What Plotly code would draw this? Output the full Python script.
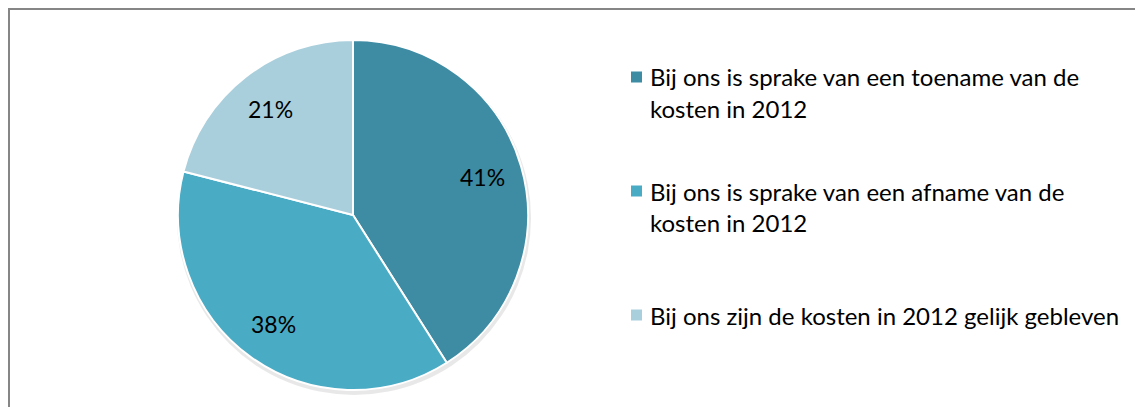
import math
import plotly.graph_objects as go

labels = [
    "Bij ons is sprake van een toename van de<br>kosten in 2012",
    "Bij ons is sprake van een afname van de<br>kosten in 2012",
    "Bij ons zijn de kosten in 2012 gelijk gebleven",
]
values = [41, 38, 21]
colors = ["#3d8ca4", "#4aabc5", "#a9cfdc"]

# The page body has an 8px margin; build the figure to fill the rest of the window.
OFF = 8
W, H = 1143 - OFF, 407 - OFF
FONT = "Lato"
FS = 24

fig = go.Figure()

cx, cy, r = 353, 215, 175  # page pixels


def px(x):
    return (x - OFF) / W


def py(y):
    return 1 - (y - OFF) / H


# subtle shadow under the pie
fig.add_trace(go.Pie(
    values=[1], marker=dict(colors=["rgba(0,0,0,0.09)"], line=dict(width=0)),
    domain=dict(x=[px(cx - r - 1), px(cx + r + 3)], y=[py(cy + r + 5), py(cy - r + 1)]),
    textinfo="none", hoverinfo="skip", showlegend=False, sort=False,
))

fig.add_trace(go.Pie(
    labels=labels, values=values, sort=False, direction="clockwise", rotation=0,
    marker=dict(colors=colors, line=dict(color="white", width=2)),
    domain=dict(x=[px(cx - r), px(cx + r)], y=[py(cy + r), py(cy - r)]),
    textinfo="none", showlegend=False, hoverinfo="label+percent",
))

annotations = []
shapes = []

# percentage labels placed along each slice's mid angle
total = sum(values)
cum = 0
for v in values:
    mid = (cum + v / 2) / total * 2 * math.pi
    cum += v
    d = 0.77 * r
    lx = cx + d * math.sin(mid)
    ly = cy - d * math.cos(mid)
    annotations.append(dict(
        x=px(lx), y=py(ly), xref="paper", yref="paper", showarrow=False,
        xanchor="center", yanchor="middle", text=f"{round(v / total * 100)}%",
        font=dict(family=FONT, size=FS - 1, color="black"),
    ))

# manual legend
first_line_y = [77, 191, 315]
line_h = 31
for lab, col, y0 in zip(labels, colors, first_line_y):
    for i, line in enumerate(lab.split("<br>")):
        annotations.append(dict(
            x=px(648), y=py(y0 + i * line_h), xref="paper", yref="paper",
            xanchor="left", yanchor="middle", text=line, showarrow=False,
            font=dict(family=FONT, size=FS, color="black"),
        ))
    shapes.append(dict(
        type="rect", xref="paper", yref="paper",
        x0=px(631), x1=px(642), y0=py(y0 + 5.5), y1=py(y0 - 5.5),
        fillcolor=col, line=dict(width=0),
    ))

# chart border
shapes.append(dict(
    type="rect", xref="paper", yref="paper",
    x0=px(9), x1=1.05, y0=-0.1, y1=py(9),
    line=dict(color="#868686", width=2), fillcolor="rgba(0,0,0,0)",
))

fig.update_layout(
    width=W, height=H, margin=dict(l=0, r=0, t=0, b=0),
    paper_bgcolor="white", plot_bgcolor="white",
    annotations=annotations, shapes=shapes, showlegend=False,
    font=dict(family=FONT),
)

fig.write_html("out.html")
